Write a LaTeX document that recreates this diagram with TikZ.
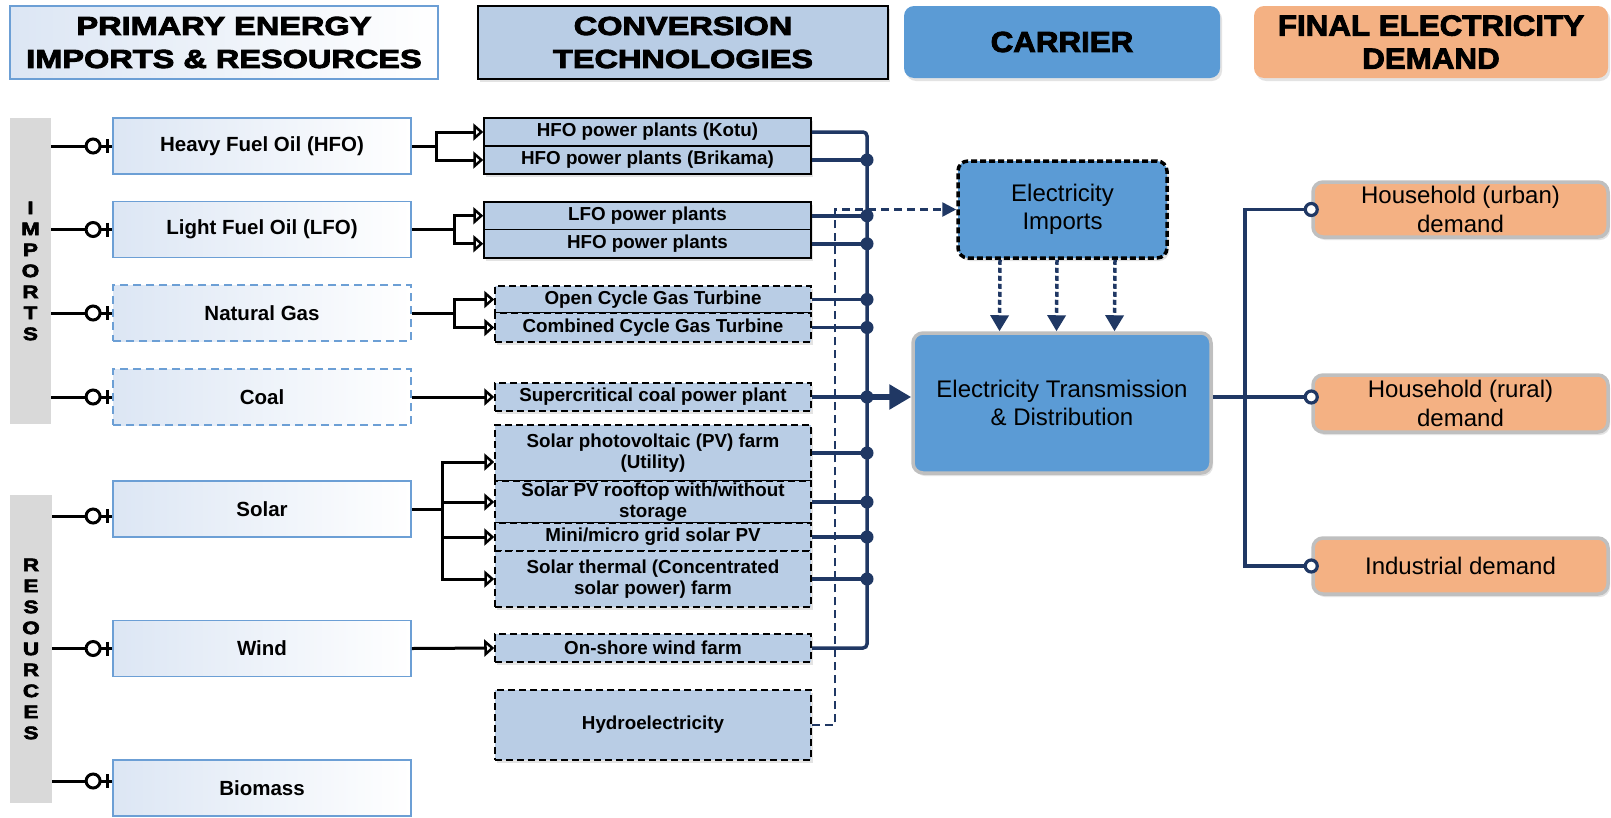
\documentclass[tikz,border=0pt]{standalone}
\usepackage{fontspec}
\setmainfont{Liberation Sans}
\newfontfamily\hdwide{Liberation Sans Bold}[FakeBold=3.5,FakeStretch=1.25]
\newfontfamily\hdtall{Liberation Sans Bold}[FakeBold=3,FakeStretch=1.08]
\usetikzlibrary{arrows.meta,shadows,calc}

\definecolor{convfill}{HTML}{B9CDE5}
\definecolor{carrierblue}{HTML}{5B9BD5}
\definecolor{demandfill}{HTML}{F4B183}
\definecolor{navy}{HTML}{203864}
\definecolor{primborder}{HTML}{6C9FD5}
\definecolor{primfill}{HTML}{DCE6F4}
\definecolor{graybar}{HTML}{D9D9D9}
\definecolor{boxgray}{HTML}{BFBFBF}

\begin{document}
\begin{tikzpicture}[x=1pt,y=-1pt,
  softshadow/.style={drop shadow={shadow xshift=2pt,shadow yshift=-3pt,opacity=0.18,fill=black!60}},
  hdA/.style={draw=primborder,line width=1.5pt,left color=primfill,middle color=white,right color=white,
    align=center,inner sep=0pt,font=\hdwide\fontsize{26}{33}\selectfont},
  hdB/.style={draw=black,line width=1.5pt,fill=convfill,softshadow,
    align=center,inner sep=0pt,font=\hdwide\fontsize{26}{33}\selectfont},
  hdC/.style={fill=#1,rounded corners=10pt,softshadow,align=center,inner sep=0pt,
    font=\hdtall\fontsize{29}{33}\selectfont},
  bar/.style={fill=graybar,inner sep=0pt,align=center,font=\hdwide\fontsize{18}{21}\selectfont},
  prim/.style={draw=primborder,line width=1.8pt,left color=primfill,middle color=white,right color=white,
    minimum width=298pt,minimum height=56pt,inner sep=0pt,font=\bfseries\fontsize{20.5}{24}\selectfont},
  primd/.style={prim,dash pattern=on 8pt off 5pt},
  conv/.style={draw=black,line width=1.5pt,fill=convfill,softshadow,inner sep=0pt,align=center,
    font=\bfseries\fontsize{18.8}{21}\selectfont},
  convd/.style={conv,dash pattern=on 7pt off 4pt},
  carrier/.style={fill=carrierblue,rounded corners=10pt,softshadow,inner sep=0pt,align=center,
    font=\fontsize{24}{28.5}\selectfont},
  demand/.style={fill=demandfill,draw=boxgray,line width=3.5pt,rounded corners=10pt,softshadow,
    minimum width=295pt,inner sep=0pt,align=center,font=\fontsize{24}{28.5}\selectfont},
  link/.style={draw=black,line width=3pt},
  feed/.style={draw=black,line width=3pt,-{Triangle[open,length=10pt,width=17pt]}},
  bus/.style={draw=navy,line width=3.5pt},
  bigarrow/.style={draw=navy,line width=5.5pt,-{Triangle[length=22pt,width=24pt]}},
  hydroline/.style={draw=navy,line width=2.6pt,dash pattern=on 8pt off 5pt,-{Triangle[length=14pt,width=14pt]}},
  dotarrow/.style={draw=navy,line width=3.5pt,dash pattern=on 5pt off 3pt,-{Triangle[length=16pt,width=18pt]}},
  dline/.style={draw=navy,line width=3.2pt}
]
\useasboundingbox (0,0) rectangle (1611,817);

% column headers
\node[hdA,minimum width=428pt,minimum height=73pt] (hprim) at (224,42.5) {PRIMARY ENERGY\\IMPORTS \& RESOURCES};
\node[hdB,minimum width=410pt,minimum height=73pt] (hconv) at (683,42.5) {CONVERSION\\TECHNOLOGIES};
\node[hdC=carrierblue,minimum width=316pt,minimum height=72pt] (hcarr) at (1062,42) {CARRIER};
\node[hdC=demandfill,minimum width=354pt,minimum height=72pt] (hdem) at (1431,42) {FINAL ELECTRICITY\\DEMAND};

% side bars
\node[bar,minimum width=41pt,minimum height=306pt] (impbar) at (30.5,271) {I\\M\\P\\O\\R\\T\\S};
\node[bar,minimum width=42pt,minimum height=308pt] (resbar) at (31,649) {R\\E\\S\\O\\U\\R\\C\\E\\S};

% primary energy
\node[prim]  (hfo)     at (262,146)   {Heavy Fuel Oil (HFO)};
\node[prim]  (lfo)     at (262,229.5) {Light Fuel Oil (LFO)};
\node[primd] (ng)      at (262,313)   {Natural Gas};
\node[primd] (coal)    at (262,397)   {Coal};
\node[prim]  (solar)   at (262,509)   {Solar};
\node[prim]  (wind)    at (262,648.5) {Wind};
\node[prim]  (biomass) at (262,788)   {Biomass};

% conversion technologies
\node[conv,minimum width=327pt,minimum height=28pt]   (kotu)  at (647.5,132)    {HFO power plants (Kotu)};
\node[conv,minimum width=327pt,minimum height=28pt]   (brik)  at (647.5,160)    {HFO power plants (Brikama)};
\node[conv,minimum width=327pt,minimum height=27.5pt] (lfopp) at (647.5,215.75) {LFO power plants};
\node[conv,minimum width=327pt,minimum height=28.5pt] (hfopp) at (647.5,243.75) {HFO power plants};
\node[convd,minimum width=316pt,minimum height=27pt]  (ocgt)  at (653,299.5)    {Open Cycle Gas Turbine};
\node[convd,minimum width=316pt,minimum height=29pt]  (ccgt)  at (653,327.5)    {Combined Cycle Gas Turbine};
\node[convd,minimum width=316pt,minimum height=28pt]  (coalpp) at (653,397)     {Supercritical coal power plant};
\node[convd,minimum width=316pt,minimum height=56pt]  (pvfarm) at (653,453)     {Solar photovoltaic (PV) farm\\(Utility)};
\node[convd,minimum width=316pt,minimum height=42pt]  (rooftop) at (653,502)    {Solar PV rooftop with/without\\storage};
\node[convd,minimum width=316pt,minimum height=28pt]  (mini)  at (653,537)      {Mini/micro grid solar PV};
\node[convd,minimum width=316pt,minimum height=56pt]  (thermal) at (653,579)    {Solar thermal (Concentrated\\solar power) farm};
\node[convd,minimum width=316pt,minimum height=28pt]  (windfarm) at (653,648)   {On-shore wind farm};
\node[convd,minimum width=316pt,minimum height=70pt]  (hydro) at (653,725)      {Hydroelectricity};

% carrier
\node[carrier,draw=black,line width=3.5pt,dash pattern=on 6pt off 3pt,minimum width=209pt,minimum height=97pt]
  (imports) at (1062.5,209.5) {Electricity\\Imports};
\node[carrier,draw=boxgray,line width=3.5pt,minimum width=298pt,minimum height=140pt]
  (trans) at (1062,403) {Electricity Transmission\\\& Distribution};

% final demand
\node[demand,minimum height=55pt] (urban) at (1460.5,209.5) {Household (urban)\\demand};
\node[demand,minimum height=57pt] (rural) at (1460.5,403.5) {Household (rural)\\demand};
\node[demand,minimum height=56pt] (indus) at (1460.5,566)   {Industrial demand};

% supply links from the side bars
\foreach \n/\src/\s in {hfo/impbar/0,lfo/impbar/0,ng/impbar/0,coal/impbar/0,solar/resbar/-7,wind/resbar/0,biomass/resbar/7}{
  \path ([yshift=\s pt]\n.west) coordinate (in\n);
  \draw[link] (\src.east |- in\n) -- (in\n);
  \draw[link,fill=white] ([xshift=-19pt]in\n) circle (7);
  \draw[link] ([xshift=-5pt,yshift=7pt]in\n) -- ([xshift=-5pt,yshift=-7pt]in\n);
}

% fuel to technology
\coordinate (sHFO) at (436,146);
\draw[link] (hfo.east) -- (sHFO);
\draw[feed] (sHFO) |- (kotu.west);
\draw[feed] (sHFO) |- (brik.west);
\coordinate (sLFO) at (454,229.5);
\draw[link] (lfo.east) -- (sLFO);
\draw[feed] (sLFO) |- (lfopp.west);
\draw[feed] (sLFO) |- (hfopp.west);
\coordinate (sNG) at (454,313);
\draw[link] (ng.east) -- (sNG);
\draw[feed] (sNG) |- (ocgt.west);
\draw[feed] (sNG) |- (ccgt.west);
\draw[feed] (coal.east) -- (coalpp.west);
\coordinate (sSOL) at (442,509);
\draw[link] (solar.east) -- (sSOL);
\draw[feed] (sSOL) |- ([yshift=-9pt]pvfarm.west);
\draw[feed] (sSOL) |- (rooftop.west);
\draw[feed] (sSOL) |- (mini.west);
\draw[feed] (sSOL) |- (thermal.west);
\draw[feed] (wind.east) -- (windfarm.west);

% hydro and imports path
\coordinate (hydroup) at (835,209.5);
\draw[hydroline] (hydro.east) -| (hydroup) -- (imports.west);
\foreach \dx in {-62.5,-5.5,52.5}
  \draw[dotarrow] ([xshift=\dx pt]imports.south) -- ([xshift=\dx pt]trans.north);

% generation bus
\coordinate (busbot) at (867,648);
\draw[bus,rounded corners=4pt] (kotu.east) -| (busbot) -- (windfarm.east);
\foreach \n in {brik,lfopp,hfopp,ocgt,ccgt,coalpp,pvfarm,rooftop,mini,thermal}{
  \draw[bus] (\n.east) -- (\n.east -| busbot);
  \fill[navy] (\n.east -| busbot) circle (6.5);
}
\draw[bigarrow] (coalpp.east -| busbot) -- (coalpp.east -| trans.west);

% distribution to demand
\coordinate (tout) at ([yshift=6pt]trans.east);
\coordinate (split) at (1245,397);
\draw[dline] (tout) -- (tout -| rural.west);
\draw[dline] (split) |- (urban.west);
\draw[dline] (split) |- (indus.west);
\foreach \p in {urban.west,indus.west}
  \draw[dline,fill=white] (\p) circle (6);
\draw[dline,fill=white] (tout -| rural.west) circle (6);
\end{tikzpicture}
\end{document}
